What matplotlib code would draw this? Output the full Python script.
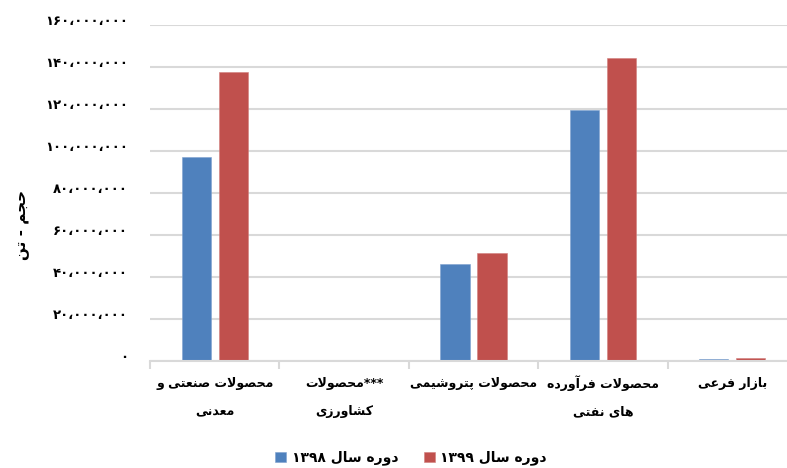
import re
import matplotlib
matplotlib.use('Agg')
import matplotlib.pyplot as plt
import matplotlib.transforms as mtrans
import numpy as np
from matplotlib.ticker import FuncFormatter

# data (tons)
categories = [['محصولات صنعتی و', 'معدنی'],
              ['***محصولات', 'کشاورزی'],
              ['محصولات پتروشیمی'],
              ['محصولات فرآورده', 'های نفتی'],
              ['بازار فرعی']]
vol_1398 = [97000000, 0, 46200000, 119400000, 1000000]
vol_1399 = [137500000, 0, 51400000, 144000000, 1300000]
series_names = ['دوره سال ۱۳۹۸', 'دوره سال ۱۳۹۹']
y_label = 'حجم - تن'

# matplotlib has no arabic shaping / bidi, so do it by hand
FORMS = {
    0x0627: (0xFE8D, 0xFE8E, None, None),
    0x0622: (0xFE81, 0xFE82, None, None),
    0x0628: (0xFE8F, 0xFE90, 0xFE91, 0xFE92),
    0x067E: (0xFB56, 0xFB57, 0xFB58, 0xFB59),
    0x062A: (0xFE95, 0xFE96, 0xFE97, 0xFE98),
    0x062C: (0xFE9D, 0xFE9E, 0xFE9F, 0xFEA0),
    0x062D: (0xFEA1, 0xFEA2, 0xFEA3, 0xFEA4),
    0x062F: (0xFEA9, 0xFEAA, None, None),
    0x0631: (0xFEAD, 0xFEAE, None, None),
    0x0632: (0xFEAF, 0xFEB0, None, None),
    0x0633: (0xFEB1, 0xFEB2, 0xFEB3, 0xFEB4),
    0x0634: (0xFEB5, 0xFEB6, 0xFEB7, 0xFEB8),
    0x0635: (0xFEB9, 0xFEBA, 0xFEBB, 0xFEBC),
    0x0639: (0xFEC9, 0xFECA, 0xFECB, 0xFECC),
    0x0641: (0xFED1, 0xFED2, 0xFED3, 0xFED4),
    0x06A9: (0xFB8E, 0xFB8F, 0xFB90, 0xFB91),
    0x0644: (0xFEDD, 0xFEDE, 0xFEDF, 0xFEE0),
    0x0645: (0xFEE1, 0xFEE2, 0xFEE3, 0xFEE4),
    0x0646: (0xFEE5, 0xFEE6, 0xFEE7, 0xFEE8),
    0x0647: (0xFEE9, 0xFEEA, 0xFEEB, 0xFEEC),
    0x0648: (0xFEED, 0xFEEE, None, None),
    0x06CC: (0xFBFC, 0xFBFD, 0xFBFE, 0xFBFF),
}


def joins_next(c):
    return ord(c) in FORMS and FORMS[ord(c)][2] is not None


def shape(s):
    out = []
    i = 0
    n = len(s)
    while i < n:
        c = s[i]
        if ord(c) not in FORMS:
            out.append(c)
            i += 1
            continue
        prev_joins = i > 0 and joins_next(s[i - 1])
        if c == 'ل' and i + 1 < n and s[i + 1] in 'اآ':
            lig = (0xFEFB, 0xFEFC) if s[i + 1] == 'ا' else (0xFEF5, 0xFEF6)
            out.append(chr(lig[1] if prev_joins else lig[0]))
            i += 2
            continue
        next_joins = i + 1 < n and ord(s[i + 1]) in FORMS and joins_next(c)
        iso, fin, ini, med = FORMS[ord(c)]
        if prev_joins and next_joins:
            g = med
        elif prev_joins:
            g = fin
        elif next_joins:
            g = ini
        else:
            g = iso
        out.append(chr(g))
        i += 1
    return ''.join(out)


def fa(s):
    v = shape(s)[::-1]
    return re.sub(r'[۰-۹0-9]+', lambda m: m.group(0)[::-1], v)


def fa_num(v, pos=None):
    s = '{:,}'.format(int(v)).replace(',', '،')
    return s.translate(str.maketrans('0123456789', '۰۱۲۳۴۵۶۷۸۹'))


plt.rcParams['font.family'] = 'DejaVu Sans'
plt.rcParams['font.weight'] = 'bold'

fig = plt.figure(figsize=(7.87, 4.68), dpi=100)
ax = fig.add_axes([150 / 787, 107 / 468, 647 / 787, 336.3 / 468])

index = np.arange(len(categories))
bar_width = 0.225
offset = 0.143

ax.bar(index - offset, vol_1398, bar_width, color='#4F81BD',
       edgecolor='#7FA2CF', linewidth=0.4, label=fa(series_names[0]), zorder=3)
ax.bar(index + offset, vol_1399, bar_width, color='#C0504D',
       edgecolor='#D27E7C', linewidth=0.4, label=fa(series_names[1]), zorder=3)

ax.set_xlim(-0.5, len(categories) - 0.5)
ax.set_ylim(0, 160000000)
ax.set_yticks(np.arange(0, 160000001, 20000000))
ax.yaxis.set_major_formatter(FuncFormatter(fa_num))
ax.yaxis.grid(True, color='#D9D9D9', linewidth=1.5, zorder=0)
ax.set_axisbelow(True)

for s in ['top', 'right', 'left']:
    ax.spines[s].set_visible(False)
ax.spines['bottom'].set_color('#D9D9D9')
ax.spines['bottom'].set_linewidth(1.5)
ax.spines['bottom'].set_zorder(4)

ax.set_xticks(np.append(index - 0.5, len(categories) - 0.5))
ax.set_xticklabels([])
ax.tick_params(axis='x', length=6, width=1.5, color='#D9D9D9')
ax.tick_params(axis='y', length=0, labelsize=9.5, pad=16)

# persian digits sit a bit high in the original
lift = mtrans.ScaledTranslation(0, 5 / 100, fig.dpi_scale_trans)
for lab in ax.get_yticklabels():
    lab.set_transform(lab.get_transform() + lift)

# category labels
lab_tr = mtrans.blended_transform_factory(ax.transData, fig.transFigure)
for i, lines in enumerate(categories):
    for j, line in enumerate(lines):
        ax.text(i, (468 - 383 - 29 * j) / 468, fa(line), transform=lab_tr,
                ha='center', va='center', fontsize=9, fontweight='bold')

fig.text(22 / 787, 1 - 225 / 468, fa(y_label), rotation=90, ha='center', va='center',
         fontsize=11, fontweight='bold')

fig.legend(loc='center', bbox_to_anchor=(411 / 787, 1 - 458 / 468), ncol=2,
           frameon=False, handlelength=0.8, handleheight=0.8, handletextpad=0.4,
           columnspacing=1.8, fontsize=10)

plt.savefig('out.png', dpi=100)
